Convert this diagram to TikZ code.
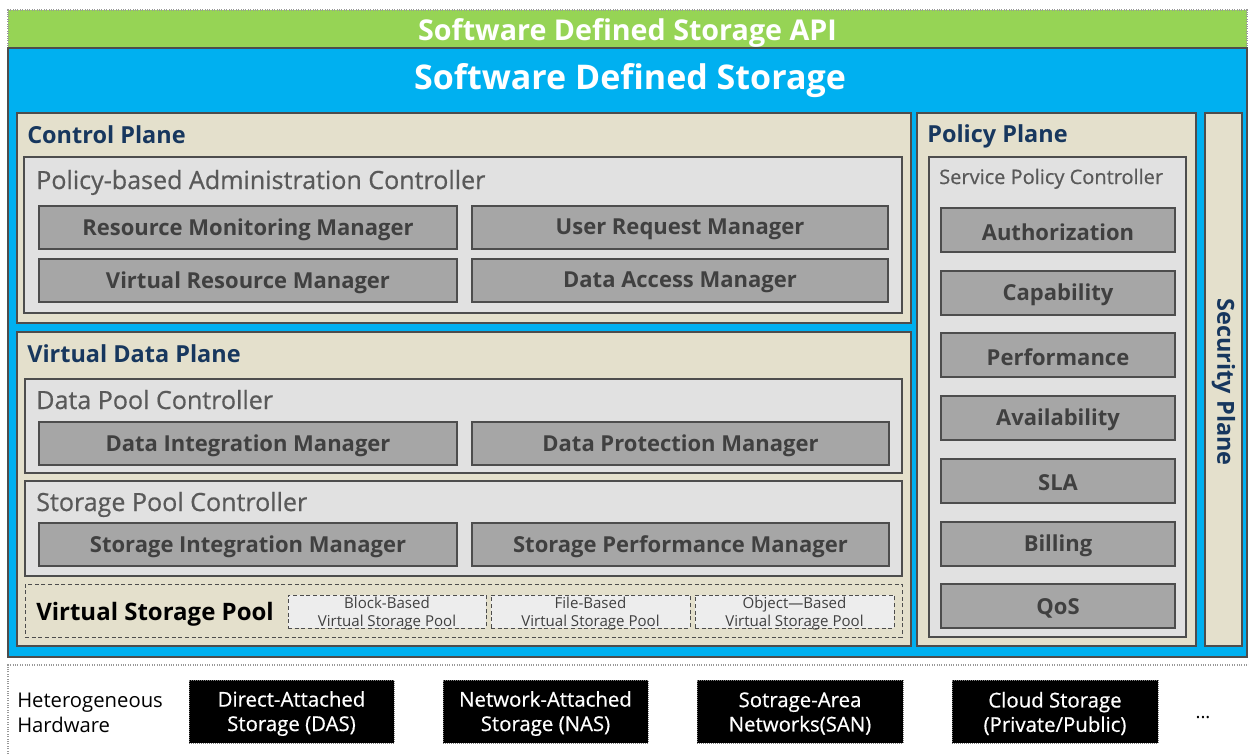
\documentclass[tikz,border=0pt]{standalone}
\usepackage{fontspec}
\setmainfont{Open Sans}
\newfontfamily\medfont[FakeBold=0.6]{Open Sans}
\usetikzlibrary{fit}
\definecolor{apigreen}{HTML}{96D455}
\definecolor{sdsblue}{HTML}{00B0F0}
\definecolor{beige}{HTML}{E4E0CC}
\definecolor{ltgray}{HTML}{E1E1E1}
\definecolor{midgray}{HTML}{A6A6A6}
\definecolor{dktext}{HTML}{404040}
\definecolor{navy}{HTML}{17375E}
\definecolor{ctitle}{HTML}{595959}
\definecolor{bord}{HTML}{4D4D4D}
\definecolor{poolfill}{HTML}{EDEDED}
\tikzset{
  box/.style={inner sep=0pt, outer sep=0pt},
  plane/.style={box, draw=bord, fill=beige, line width=0.9pt},
  ctrl/.style={box, draw=bord, fill=ltgray, line width=0.8pt},
  mgr/.style={box, draw=bord, fill=midgray, line width=0.8pt},
  mgrtext/.style={text=dktext, yshift=-1.5pt, font=\bfseries\fontsize{16.5}{19}\selectfont},
  planetitle/.style={anchor=base west, text=navy, font=\bfseries\fontsize{17.6}{20}\selectfont, inner sep=0pt},
  ctrltitle/.style={anchor=base west, text=ctitle, font=\medfont\fontsize{18.8}{22}\selectfont, inner sep=0pt},
  pooltext/.style={align=center, text=dktext, yshift=-1.5pt, font=\fontsize{11.3}{13.5}\selectfont},
  hw/.style={box, fill=black, draw=gray, densely dotted, line width=0.5pt},
  hwtext/.style={align=center, text=white, yshift=-1.5pt, font=\medfont\fontsize{15.3}{18.3}\selectfont},
}
\begin{document}
\begin{tikzpicture}[x=0.75pt,y=-0.75pt]
\useasboundingbox (0,0) rectangle (1249,754);
\fill[white] (0,0) rectangle (1249,754);
% API bar
\node[box, fill=apigreen, draw=gray!80, densely dotted, line width=0.8pt, fit={(8,10)(1247,48)}] (api) {};
\node[text=white, font=\bfseries\fontsize{21.5}{24}\selectfont] at ([yshift=-3pt]api.center) {Software Defined Storage API};
% SDS
\node[box, fill=sdsblue, draw=bord, line width=0.8pt, fit={(8,48)(1247,657)}] (sds) {};
\node[text=white, font=\bfseries\fontsize{25.5}{30}\selectfont] (sdst) at (630,81) {Software Defined Storage};
% Control plane
\node[plane, fit={(17,113)(911,323)}] (cp) {};
\node[planetitle] (cpt) at (27,143) {Control Plane};
\node[ctrl, fit={(24,157)(902,313)}] (pac) {};
\node[ctrltitle] (pact) at (36,189) {Policy-based Administration Controller};
\node[mgr, fit={(39,206)(457,249)}] (rmm) {};
\node[mgrtext] at (rmm.center) {Resource Monitoring Manager};
\node[mgr, fit={(472,206)(888,249)}] (urm) {};
\node[mgrtext] at (urm.center) {User Request Manager};
\node[mgr, fit={(39,259)(457,302)}] (vrm) {};
\node[mgrtext] at (vrm.center) {Virtual Resource Manager};
\node[mgr, fit={(472,259)(888,302)}] (dam) {};
\node[mgrtext] at (dam.center) {Data Access Manager};
% Virtual data plane
\node[plane, fit={(17,332)(911,646)}] (vdp) {};
\node[planetitle] (vdpt) at (27,362) {Virtual Data Plane};
\node[ctrl, fit={(25,379)(902,473)}] (dpc) {};
\node[ctrltitle] (dpct) at (36,409) {Data Pool Controller};
\node[mgr, fit={(39,422)(457,465)}] (dim) {};
\node[mgrtext] at (dim.center) {Data Integration Manager};
\node[mgr, fit={(472,422)(889,465)}] (dpm) {};
\node[mgrtext] at (dpm.center) {Data Protection Manager};
\node[ctrl, fit={(25,481)(902,576)}] (spc) {};
\node[ctrltitle] (spct) at (36,511) {Storage Pool Controller};
\node[mgr, fit={(39,523)(457,566)}] (sim) {};
\node[mgrtext] at (sim.center) {Storage Integration Manager};
\node[mgr, fit={(472,523)(889,566)}] (spm) {};
\node[mgrtext] at (spm.center) {Storage Performance Manager};
% Virtual storage pool
\node[box, draw=bord, densely dashed, line width=0.7pt, fit={(25,584)(902,637)}] (vsp) {};
\node[anchor=base west, inner sep=0pt, text=black, font=\bfseries\fontsize{18}{21}\selectfont] (vspt) at (36,620) {Virtual Storage Pool};
\node[box, fill=poolfill, draw=bord, densely dashed, line width=0.6pt, fit={(288,595)(486,628)}] (bp) {};
\node[pooltext] at (bp.center) {Block-Based\\Virtual Storage Pool};
\node[box, fill=poolfill, draw=bord, densely dashed, line width=0.6pt, fit={(491,595)(690,628)}] (fp) {};
\node[pooltext] at (fp.center) {File-Based\\Virtual Storage Pool};
\node[box, fill=poolfill, draw=bord, densely dashed, line width=0.6pt, fit={(695,595)(894,628)}] (op) {};
\node[pooltext] at (op.center) {Object—Based\\Virtual Storage Pool};
% Policy plane
\node[plane, fit={(917,113)(1196,646)}] (pp) {};
\node[planetitle] (ppt) at (927,142) {Policy Plane};
\node[ctrl, fit={(929,157)(1186,637)}] (spol) {};
\node[anchor=base west, inner sep=0pt, text=ctitle, font=\medfont\fontsize{15}{18}\selectfont] (spolt) at (939,184) {Service Policy Controller};
\foreach \nm/\lab/\yy in {au/Authorization/208, ca/Capability/271, pe/Performance/333, av/Availability/396, sl/SLA/459, bi/Billing/522, qo/QoS/584}{
  \node[mgr, fit={(941,\yy)(1175,\yy+44)}] (\nm) {};
  \node[mgrtext] at (\nm.center) {\lab};
}
% Security plane
\node[plane, fit={(1205,113)(1242,646)}] (sp) {};
\node[rotate=-90, text=navy, font=\bfseries\fontsize{17.6}{20}\selectfont] at ([yshift=-2pt]sp.center) {Security Plane};
% Hardware
\draw[gray!80, densely dotted, line width=0.8pt] (8,754) |- (1249,665);
\node[anchor=west, align=left, inner sep=0pt, text=black, font=\fontsize{15.2}{18.3}\selectfont] (het) at (17,713) {Heterogeneous\\Hardware};
\node[hw, fit={(189,680)(394,743)}] (das) {};
\node[hwtext] at (das.center) {Direct-Attached\\Storage (DAS)};
\node[hw, fit={(443,680)(648,743)}] (nas) {};
\node[hwtext] at (nas.center) {Network-Attached\\Storage (NAS)};
\node[hw, fit={(697,680)(903,743)}] (san) {};
\node[hwtext] at (san.center) {Sotrage-Area\\Networks(SAN)};
\node[hw, fit={(952,680)(1158,743)}] (cld) {};
\node[hwtext] at (cld.center) {Cloud Storage\\(Private/Public)};
\node[text=black, font=\fontsize{14}{18}\selectfont] (dots) at (1203,718) {...};
\end{tikzpicture}
\end{document}
